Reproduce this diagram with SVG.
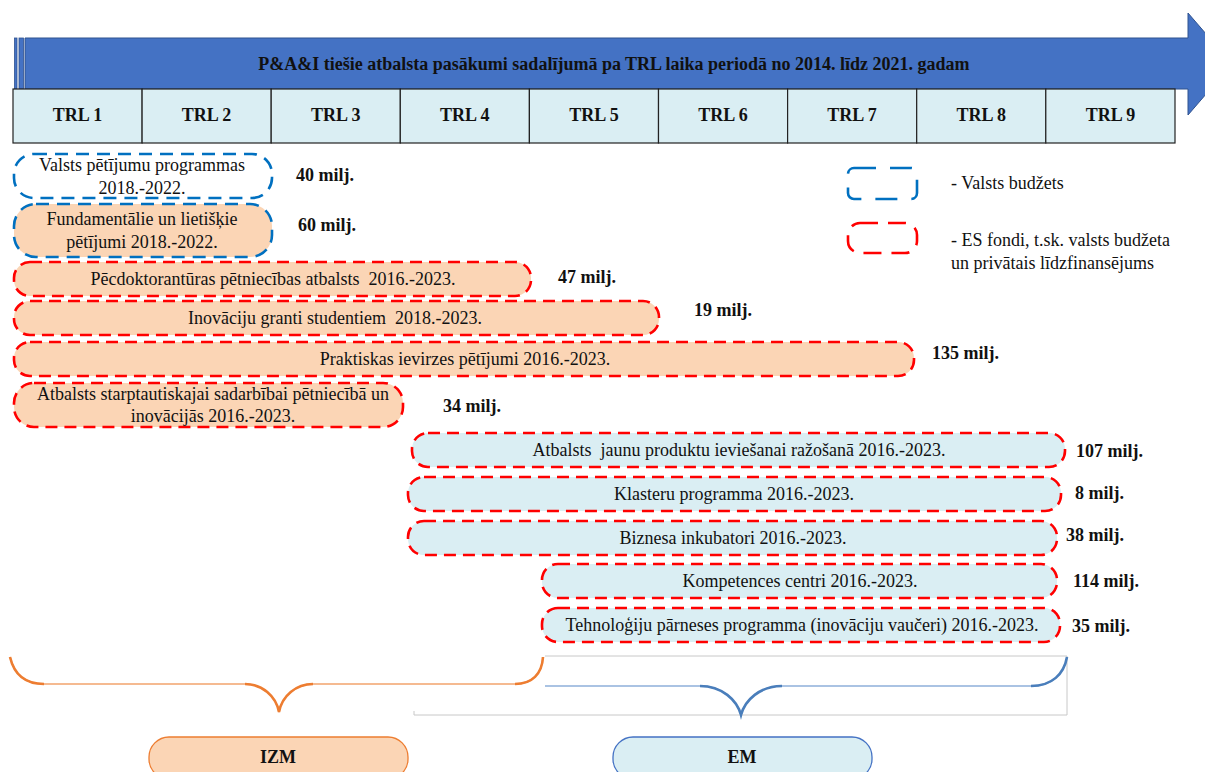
<svg xmlns="http://www.w3.org/2000/svg" width="1205" height="772" viewBox="0 0 1205 772">
<style>
  text { font-family: 'Liberation Serif', 'Times New Roman', serif; fill: #111; }
  .t { font-size: 18px; }
  .b { font-size: 18px; font-weight: bold; }
  .trl { font-size: 18px; font-weight: bold; text-anchor: middle; }
  .c { text-anchor: middle; }
  .cell { fill: #DAEEF3; stroke: #222; stroke-width: 1.2; }
  .blue { stroke: #0070C0; stroke-width: 2.6; stroke-dasharray: 13 8; }
  .red { stroke: #FF0000; stroke-width: 2.6; stroke-dasharray: 12 7; }
  .peach { fill: #FBD5B5; }
  .lb { fill: #DAEEF3; }
  .wh { fill: #FFFFFF; }
</style>
<rect width="1205" height="772" fill="#FFFFFF"/>

<g id="header-arrow">
  <rect x="14.5" y="38" width="2.5" height="51" fill="#4472C4" stroke="#2F528F" stroke-width="0.8"/>
  <rect x="19" y="38" width="4.5" height="51" fill="#4472C4" stroke="#2F528F" stroke-width="0.8"/>
  <polygon points="25,38 1188,38 1188,13 1232,64 1188,115 1188,89 25,89" fill="#4472C4" stroke="#2F528F" stroke-width="1"/>
  <text class="b c" x="614" y="70">P&amp;A&amp;I tiešie atbalsta pasākumi sadalījumā pa TRL laika periodā no 2014. līdz 2021. gadam</text>
</g>

<g id="trl-row">
  <rect class="cell" x="13" y="89" width="129.1" height="54"/>
  <rect class="cell" x="142.1" y="89" width="129.1" height="54"/>
  <rect class="cell" x="271.2" y="89" width="129.1" height="54"/>
  <rect class="cell" x="400.3" y="89" width="129.1" height="54"/>
  <rect class="cell" x="529.4" y="89" width="129.1" height="54"/>
  <rect class="cell" x="658.5" y="89" width="129.1" height="54"/>
  <rect class="cell" x="787.6" y="89" width="129.1" height="54"/>
  <rect class="cell" x="916.7" y="89" width="129.1" height="54"/>
  <rect class="cell" x="1045.8" y="89" width="129.2" height="54"/>
  <text class="trl" x="77.5" y="121">TRL 1</text>
  <text class="trl" x="206.6" y="121">TRL 2</text>
  <text class="trl" x="335.7" y="121">TRL 3</text>
  <text class="trl" x="464.8" y="121">TRL 4</text>
  <text class="trl" x="593.9" y="121">TRL 5</text>
  <text class="trl" x="723" y="121">TRL 6</text>
  <text class="trl" x="852.1" y="121">TRL 7</text>
  <text class="trl" x="981.2" y="121">TRL 8</text>
  <text class="trl" x="1110.4" y="121">TRL 9</text>
</g>

<g id="n1">
  <rect class="wh blue" x="14" y="154" width="258" height="44" rx="20"/>
  <text class="t c" x="142" y="171">Valsts pētījumu programmas</text>
  <text class="t c" x="142" y="194">2018.-2022.</text>
  <text class="b" x="296" y="181">40 milj.</text>
</g>
<g id="n2">
  <rect class="peach blue" x="14" y="204" width="258" height="53" rx="22"/>
  <text class="t c" x="142" y="225">Fundamentālie un lietišķie</text>
  <text class="t c" x="142" y="248">pētījumi 2018.-2022.</text>
  <text class="b" x="298" y="231">60 milj.</text>
</g>
<g id="n3">
  <rect class="peach red" x="14" y="262" width="517" height="34" rx="16"/>
  <text class="t c" x="273" y="285" xml:space="preserve">Pēcdoktorantūras pētniecības atbalsts  2016.-2023.</text>
  <text class="b" x="558" y="283">47 milj.</text>
</g>
<g id="n4">
  <rect class="peach red" x="14" y="301" width="645" height="34" rx="16"/>
  <text class="t c" x="335" y="324" xml:space="preserve">Inovāciju granti studentiem  2018.-2023.</text>
  <text class="b" x="694" y="316">19 milj.</text>
</g>
<g id="n5">
  <rect class="peach red" x="14" y="342" width="900" height="34" rx="16"/>
  <text class="t c" x="465" y="365">Praktiskas ievirzes pētījumi 2016.-2023.</text>
  <text class="b" x="932" y="359">135 milj.</text>
</g>
<g id="n6">
  <rect class="peach red" x="14" y="383" width="389" height="44" rx="20"/>
  <text class="t c" x="213" y="400">Atbalsts starptautiskajai sadarbībai pētniecībā un</text>
  <text class="t c" x="213" y="422">inovācijās 2016.-2023.</text>
  <text class="b" x="443" y="412">34 milj.</text>
</g>
<g id="n7">
  <rect class="lb red" x="412" y="433" width="653" height="34" rx="16"/>
  <text class="t c" x="739" y="456" xml:space="preserve">Atbalsts  jaunu produktu ieviešanai ražošanā 2016.-2023.</text>
  <text class="b" x="1076" y="457">107 milj.</text>
</g>
<g id="n8">
  <rect class="lb red" x="408" y="477" width="653" height="34" rx="16"/>
  <text class="t c" x="734" y="500">Klasteru programma 2016.-2023.</text>
  <text class="b" x="1075" y="499">8 milj.</text>
</g>
<g id="n9">
  <rect class="lb red" x="408" y="521" width="649" height="34" rx="16"/>
  <text class="t c" x="733" y="544">Biznesa inkubatori 2016.-2023.</text>
  <text class="b" x="1066" y="541">38 milj.</text>
</g>
<g id="n10">
  <rect class="lb red" x="542" y="564" width="515" height="34" rx="16"/>
  <text class="t c" x="800" y="587">Kompetences centri 2016.-2023.</text>
  <text class="b" x="1073" y="587">114 milj.</text>
</g>
<g id="n11">
  <rect class="lb red" x="542" y="608" width="518" height="34" rx="16"/>
  <text class="t c" x="802" y="631">Tehnoloģiju pārneses programma (inovāciju vaučeri) 2016.-2023.</text>
  <text class="b" x="1072" y="632">35 milj.</text>
</g>

<g id="legend">
  <rect class="wh blue" x="848" y="168" width="69" height="31" rx="6" style="stroke-dasharray: 22 14"/>
  <text class="t" x="951" y="189">- Valsts budžets</text>
  <rect class="wh red" x="848" y="223" width="69" height="30" rx="12" style="stroke-dasharray: 18 10"/>
  <text class="t" x="951" y="246">- ES fondi, t.sk. valsts budžeta</text>
  <text class="t" x="951" y="269">un privātais līdzfinansējums</text>
</g>

<g id="connectors">
  <g id="frame" fill="none" stroke="#C8C8C8" stroke-width="1">
    <path d="M545,656 H1067 V715 H414 V711"/>
  </g>
  <g id="brace-izm" fill="none" stroke="#ED7D31">
    <path d="M10,657 C14,674 24,684 44,684 H245 C262,684 276,696 279,712 C282,696 296,684 313,684 H515 C532,684 542,674 543,657" stroke-width="1.4" stroke="#F2A46E"/>
    <path d="M10,657 C14,674 24,684 44,684 M245,684 C262,684 276,696 279,712 C282,696 296,684 313,684 M515,684 C532,684 542,674 543,657" stroke-width="2.6"/>
  </g>
  <g id="brace-em" fill="none" stroke="#4A7EBB">
    <path d="M545,686 H700 C722,686 737,700 741,715 C745,700 760,686 782,686 H1031 C1052,686 1064,674 1067,657" stroke-width="1.4" stroke="#8FB0DA"/>
    <path d="M700,686 C722,686 737,700 741,715 C745,700 760,686 782,686 M1031,686 C1052,686 1064,674 1067,657" stroke-width="2.6"/>
  </g>
</g>

<g id="izm">
  <rect x="149" y="737" width="259" height="42" rx="20" fill="#FBD5B5" stroke="#ED7D31" stroke-width="1.3"/>
  <text class="b c" x="278" y="763">IZM</text>
</g>
<g id="em">
  <rect x="613" y="737" width="259" height="42" rx="20" fill="#DAEEF3" stroke="#4472C4" stroke-width="1.3"/>
  <text class="b c" x="742" y="763">EM</text>
</g>
</svg>
